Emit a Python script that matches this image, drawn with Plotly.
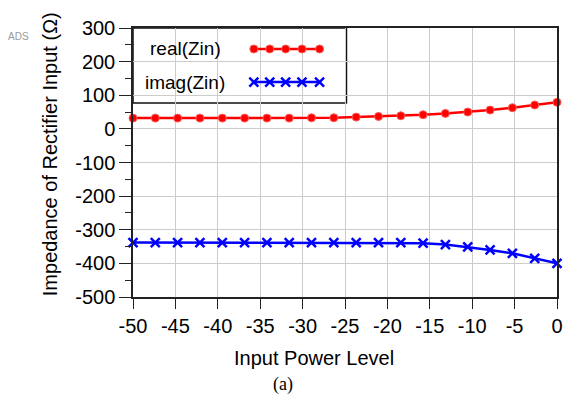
import plotly.graph_objects as go

# Data
power_dbm = [-50.0, -47.37, -44.74, -42.11, -39.47, -36.84, -34.21, -31.58, -28.95, -26.32,
             -23.68, -21.05, -18.42, -15.79, -13.16, -10.53, -7.89, -5.26, -2.63, 0.0]
real_zin = [32, 32, 32, 32, 32, 32, 32, 32, 33, 33, 35, 37, 39, 42, 46, 50, 56, 63, 71, 79]
imag_zin = [-338, -338, -338, -338, -338, -338, -338, -338, -338, -338, -338, -338, -338,
            -340, -344, -351, -360, -370, -385, -400]
series_names = ["real(Zin)", "imag(Zin)"]
x_ticks = [-50, -45, -40, -35, -30, -25, -20, -15, -10, -5, 0]
y_ticks = [300, 200, 100, 0, -100, -200, -300, -400, -500]

# Legend key sample positions (fractions of plot area)
legend_key_x = [0.285, 0.3225, 0.36, 0.3985, 0.44]
legend_key_y = [0.922, 0.799]

FONT = "Liberation Sans, Arial, sans-serif"
RED = "#ff0000"
BLUE = "#0000ff"

red_marker = dict(symbol="circle", size=8, color=RED, line=dict(color="#ff5a5a", width=1))
blue_marker = dict(symbol="x-thin", size=9, color=BLUE, line=dict(color=BLUE, width=2.5))

fig = go.Figure()
fig.add_trace(go.Scatter(
    x=power_dbm, y=real_zin, mode="lines+markers", name=series_names[0],
    line=dict(color=RED, width=2.5), marker=red_marker,
    showlegend=False, cliponaxis=False))
fig.add_trace(go.Scatter(
    x=power_dbm, y=imag_zin, mode="lines+markers", name=series_names[1],
    line=dict(color=BLUE, width=2.5), marker=blue_marker,
    showlegend=False, cliponaxis=False))

# Custom legend key samples on an overlay axis
fig.add_trace(go.Scatter(
    x=legend_key_x, y=[legend_key_y[0]] * len(legend_key_x), mode="lines+markers",
    xaxis="x2", yaxis="y2", showlegend=False, hoverinfo="skip",
    line=dict(color=RED, width=2.5), marker=red_marker))
fig.add_trace(go.Scatter(
    x=legend_key_x, y=[legend_key_y[1]] * len(legend_key_x), mode="lines+markers",
    xaxis="x2", yaxis="y2", showlegend=False, hoverinfo="skip",
    line=dict(color=BLUE, width=2.5), marker=blue_marker))

fig.update_layout(
    width=564, height=399,
    margin=dict(l=133, r=7, t=28, b=102),
    paper_bgcolor="white", plot_bgcolor="white",
    font=dict(family=FONT, size=20, color="black"),
    xaxis=dict(range=[-50, 0], tickvals=x_ticks, ticktext=[str(v) for v in x_ticks],
               automargin=False,
               showgrid=True, gridcolor="#cccccc", gridwidth=1, zeroline=False,
               showline=True, linecolor="#222222", linewidth=1.5, mirror=True,
               ticks="outside", ticklen=10, tickcolor="#222222", tickwidth=1,
               tickfont=dict(size=20, family=FONT)),
    yaxis=dict(range=[-500, 300], tickvals=y_ticks, ticktext=[str(v) for v in y_ticks],
               automargin=False,
               showgrid=True, gridcolor="#cccccc", gridwidth=1, zeroline=False,
               showline=True, linecolor="#222222", linewidth=1.5, mirror=True,
               ticks="outside", ticklen=12, tickcolor="#222222", tickwidth=1,
               tickfont=dict(size=20, family=FONT),
               minor=dict(dtick=50, ticks="outside", ticklen=6, tickcolor="#222222", showgrid=False)),
    xaxis2=dict(range=[0, 1], overlaying="x", visible=False, fixedrange=True, automargin=False),
    yaxis2=dict(range=[0, 1], overlaying="y", visible=False, fixedrange=True, automargin=False),
    shapes=[dict(type="rect", xref="paper", yref="paper", x0=0, x1=0.5035, y0=0.721, y1=1,
                 line=dict(color="#111111", width=1.5), fillcolor="white", layer="below")],
    annotations=[
        dict(text=series_names[0], xref="paper", yref="paper", x=0.123, y=legend_key_y[0],
             xanchor="center", yanchor="middle", showarrow=False, font=dict(size=19, family=FONT)),
        dict(text=series_names[1], xref="paper", yref="paper", x=0.123, y=legend_key_y[1],
             xanchor="center", yanchor="middle", showarrow=False, font=dict(size=19, family=FONT)),
        dict(text="Impedance of Rectifier Input (Ω)", xref="paper", yref="paper",
             x=-0.195, y=0.532, textangle=-90, xanchor="center", yanchor="middle",
             showarrow=False, font=dict(size=20, family=FONT)),
        dict(text="Input Power Level", xref="paper", yref="paper", x=0.426, y=-0.227,
             xanchor="center", yanchor="middle", showarrow=False, font=dict(size=20, family=FONT)),
        dict(text="(a)", xref="paper", yref="paper", x=0.353, y=-0.327,
             xanchor="center", yanchor="middle", showarrow=False,
             font=dict(size=18, family="Liberation Serif, Times New Roman, serif")),
        dict(text="ADS", xref="paper", yref="paper", x=-0.271, y=0.967,
             xanchor="center", yanchor="middle", showarrow=False,
             font=dict(size=10, family=FONT, color="#999999")),
    ],
)

fig.write_html("out.html",
               config={"displayModeBar": False, "responsive": False},
               post_script="document.body.style.margin='0';document.body.style.padding='0';"
                           "document.documentElement.style.overflow='hidden';")
